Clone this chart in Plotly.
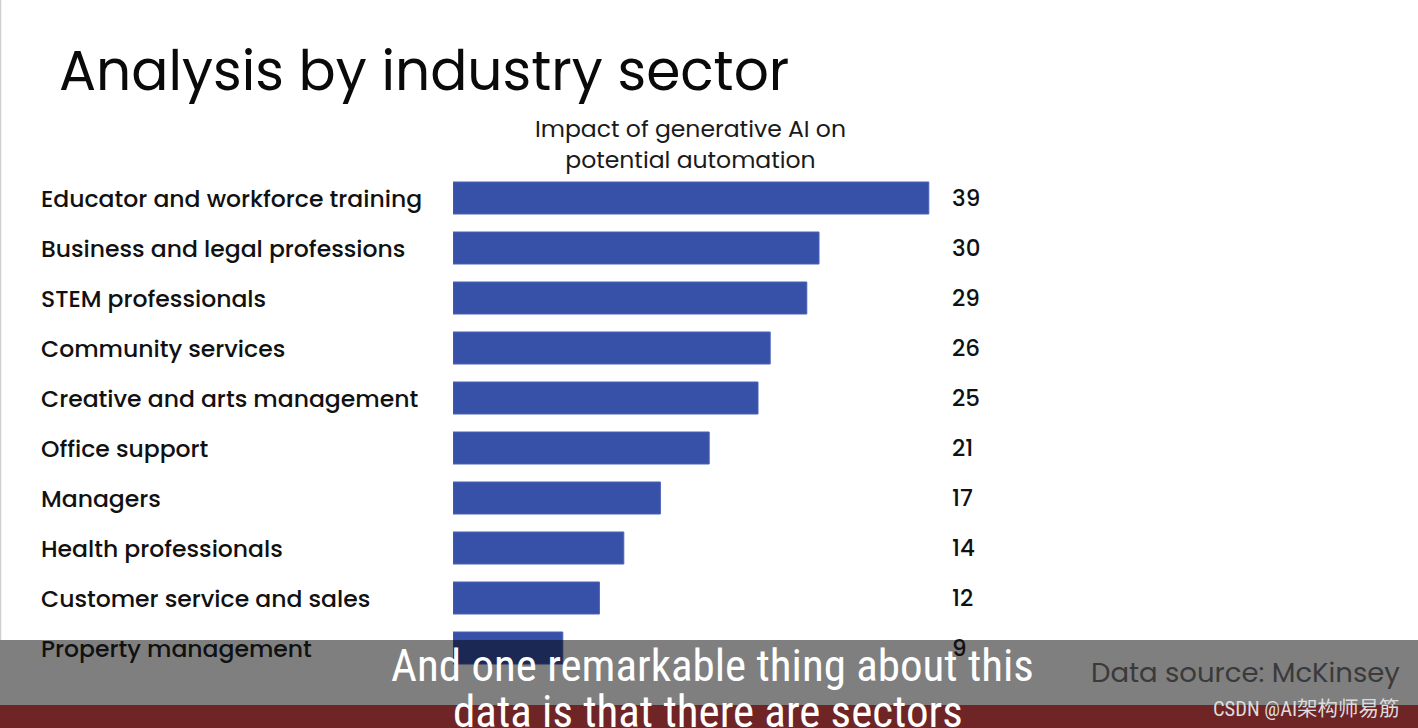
import plotly.graph_objects as go

categories = [
    "Educator and workforce training",
    "Business and legal professions",
    "STEM professionals",
    "Community services",
    "Creative and arts management",
    "Office support",
    "Managers",
    "Health professionals",
    "Customer service and sales",
    "Property management",
]
values = [39, 30, 29, 26, 25, 21, 17, 14, 12, 9]
value_labels = [str(v) for v in values]

title_text = "Analysis by industry sector"
header_text = "Impact of generative AI on<br>potential automation"
source_text = "Data source: McKinsey"
subtitle_lines = ["And one remarkable thing about this", "data is that there are sectors"]
watermark_text = "CSDN @AI架构师易筋"

W, H = 1418, 728
L, R_px = 453, 1063      # plot area in pixels
T, B_px = 173, 673
pw, ph = R_px - L, B_px - T

def px(x):
    return (x - L) / pw

def py(y):
    return (B_px - y) / ph

FONT = "Poppins, 'Open Sans', sans-serif"
SUB_FONT = "'Roboto Condensed', 'Liberation Sans Narrow', Roboto, sans-serif"

fig = go.Figure()
fig.add_trace(go.Bar(
    x=values, y=categories, orientation="h",
    marker=dict(color="#3750a8", line=dict(color="#4a63b8", width=1)),
    width=0.64, hoverinfo="skip",
))

annotations = []
annotations.append(dict(text=title_text, x=px(57), y=py(70), xref="paper", yref="paper",
                        xanchor="left", yanchor="middle", showarrow=False,
                        font=dict(family=FONT, size=55, color="#0a0a0a")))
annotations.append(dict(text=header_text, x=px(690), y=py(144), xref="paper", yref="paper",
                        xanchor="center", yanchor="middle", showarrow=False, align="center",
                        font=dict(family=FONT, size=23.5, color="#1a1a1a")))
for c, lab in zip(categories, value_labels):
    annotations.append(dict(text=c, x=px(39), y=c, xref="paper", yref="y",
                            xanchor="left", yanchor="middle", showarrow=False,
                            font=dict(family=FONT, size=23.5, color="#111111", weight=500)))
    annotations.append(dict(text=lab, x=px(950), y=c, xref="paper", yref="y",
                            xanchor="left", yanchor="middle", showarrow=False,
                            font=dict(family=FONT, size=23, color="#111111", weight=500)))
annotations.append(dict(text=source_text, x=px(1402), y=py(672), xref="paper", yref="paper",
                        xanchor="right", yanchor="middle", showarrow=False,
                        font=dict(family=FONT, size=27.5, color="#3a3a3a")))
annotations.append(dict(text=subtitle_lines[0], x=px(712), y=py(665), xref="paper", yref="paper",
                        xanchor="center", yanchor="middle", showarrow=False,
                        font=dict(family=SUB_FONT, size=45, color="#ffffff")))
annotations.append(dict(text=subtitle_lines[1], x=px(708), y=py(711), xref="paper", yref="paper",
                        xanchor="center", yanchor="middle", showarrow=False,
                        font=dict(family=SUB_FONT, size=45, color="#ffffff")))
annotations.append(dict(text=watermark_text, x=px(1402), y=py(709), xref="paper", yref="paper",
                        xanchor="right", yanchor="middle", showarrow=False,
                        font=dict(family="'Roboto Condensed', 'Noto Sans CJK SC', sans-serif", size=20.5, color="#dcdcdc")))

shapes = [
    dict(type="rect", xref="paper", yref="paper", x0=px(0), x1=px(W), y0=py(H), y1=py(640),
         fillcolor="rgba(0,0,0,0.5)", line=dict(width=0), layer="above"),
    dict(type="rect", xref="paper", yref="paper", x0=px(0), x1=px(W), y0=py(H), y1=py(705),
         fillcolor="#6f2425", line=dict(width=0), layer="above"),
    dict(type="line", xref="paper", yref="paper", x0=px(0.5), x1=px(0.5), y0=py(640), y1=py(0),
         line=dict(color="#cfcfcf", width=1.5), layer="above"),
]

fig.update_layout(
    width=W, height=H,
    margin=dict(l=L, r=W - R_px, t=T, b=H - B_px, pad=0),
    paper_bgcolor="#ffffff", plot_bgcolor="#ffffff",
    showlegend=False,
    xaxis=dict(range=[0, 50], visible=False, fixedrange=True),
    yaxis=dict(categoryorder="array", categoryarray=categories, autorange="reversed",
               visible=False, fixedrange=True),
    annotations=annotations, shapes=shapes,
    bargap=0.36,
)

fig.write_html("out.html", config={"displayModeBar": False},
               post_script="document.body.style.margin='0';document.body.style.overflow='hidden';")
